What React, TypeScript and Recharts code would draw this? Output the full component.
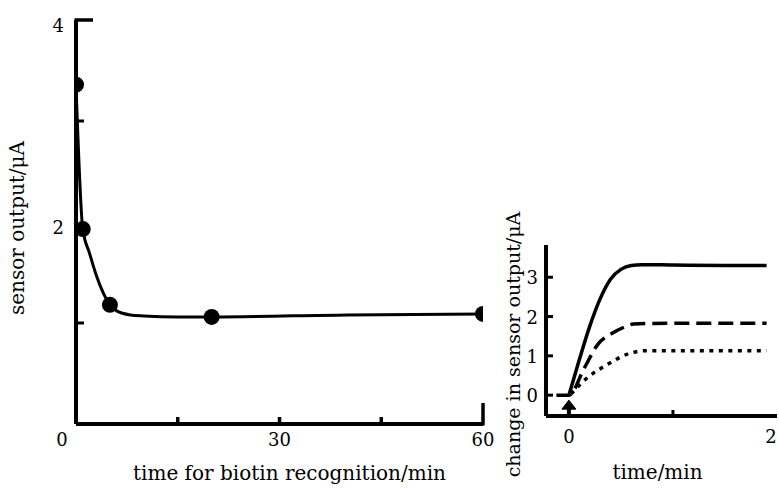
import React from 'react';
import { LineChart, Line, XAxis, YAxis } from 'recharts';

const FONT = '"DejaVu Serif", "Liberation Serif", serif';
const INK = '#000';

// ---- main chart data ----
const mainDotTime = [0, 1, 5, 20, 60];
const mainDotOutput = [3.36, 1.93, 1.18, 1.06, 1.09];
const mainCurveTime = [0, 1, 2, 3, 4, 5, 6, 8, 10, 15, 20, 40, 60];
const mainCurveOutput = [3.36, 1.93, 1.69, 1.47, 1.3, 1.18, 1.12, 1.08, 1.07, 1.06, 1.06, 1.08, 1.09];
const mainXTicks = [0, 15, 30, 45, 60];
const mainXLabels = ['0', '', '30', '', '60'];
const mainYTicks = [0, 1, 2, 3, 4];
const mainYLabels = ['', '', '2', '', '4'];

// ---- inset data ----
const solidTime = [0, 0.1, 0.2, 0.3, 0.4, 0.5, 0.6, 0.7, 1.0, 1.5, 1.9];
const solidChange = [0, 0.9, 1.75, 2.45, 2.95, 3.2, 3.3, 3.32, 3.31, 3.3, 3.3];
const dashedTime = [-0.12, 0, 0.15, 0.28, 0.42, 0.54, 0.62, 1.0, 1.5, 1.9];
const dashedChange = [0, 0, 0.7, 1.3, 1.58, 1.74, 1.81, 1.83, 1.83, 1.83];
const dottedTime = [0.02, 0.18, 0.35, 0.57, 0.73, 1.0, 1.5, 1.9];
const dottedChange = [0.03, 0.45, 0.75, 1.05, 1.13, 1.13, 1.13, 1.13];
const arrowTime = [0, 0];
const arrowChange = [-0.53, -0.33];
const insetXTicks = [0, 1, 2];
const insetXLabels = ['0', '', '2'];
const insetYTicks = [0, 1, 2, 3];
const insetYLabels = ['0', '1', '2', '3'];

const zip = (ts: number[], vs: number[]) => ts.map((t, i) => ({ t, v: vs[i] }));

const mainDots = zip(mainDotTime, mainDotOutput);
const mainCurve = zip(mainCurveTime, mainCurveOutput);
const solidData = zip(solidTime, solidChange);
const dashedData = zip(dashedTime, dashedChange);
const dottedData = zip(dottedTime, dottedChange);
const arrowData = zip(arrowTime, arrowChange);

const textStyle = { fontFamily: FONT, fontSize: 20, fill: INK };
const insetTitleStyle = { fontFamily: FONT, fontSize: 19, fill: INK };
const tickStyle = { fontFamily: FONT, fontSize: 18, fill: INK };

const MainXTick = (props: any) => {
  const { x, y, payload } = props;
  const v = payload.value;
  const label = mainXLabels[mainXTicks.indexOf(v)];
  return (
    <g>
      {v > 0 && v < 60 ? <line x1={x} x2={x} y1={y} y2={y - 7} stroke={INK} strokeWidth={3.5} /> : null}
      {v === 60 ? <line x1={x} x2={x} y1={y + 1.5} y2={y - 21} stroke={INK} strokeWidth={3.5} /> : null}
      {label ? (
        <text x={v === 0 ? x - 14 : x} y={y + 22} textAnchor="middle" style={tickStyle}>{label}</text>
      ) : null}
    </g>
  );
};

const MainYTick = (props: any) => {
  const { x, y, payload } = props;
  const v = payload.value;
  const label = mainYLabels[mainYTicks.indexOf(v)];
  return (
    <g>
      {v === 4 ? <line x1={x - 1.5} x2={x + 17} y1={y} y2={y} stroke={INK} strokeWidth={3.5} /> : null}
      {v === 1 || v === 3 ? <line x1={x} x2={x + 8} y1={y} y2={y} stroke={INK} strokeWidth={3} /> : null}
      {label ? (
        <text x={x - 12} y={y + 12} textAnchor="end" style={tickStyle}>{label}</text>
      ) : null}
    </g>
  );
};

const InsetXTick = (props: any) => {
  const { x, y, payload } = props;
  const v = payload.value;
  const label = insetXLabels[insetXTicks.indexOf(v)];
  return (
    <g>
      {v === 1 ? <line x1={x} x2={x} y1={y} y2={y - 6} stroke={INK} strokeWidth={3} /> : null}
      {label ? (
        <text x={v === 2 ? x - 4 : x} y={y + 27} textAnchor="middle" style={tickStyle}>{label}</text>
      ) : null}
    </g>
  );
};

const InsetYTick = (props: any) => {
  const { x, y, payload } = props;
  const v = payload.value;
  const label = insetYLabels[insetYTicks.indexOf(v)];
  return (
    <g>
      <line x1={x} x2={x + 7} y1={y} y2={y} stroke={INK} strokeWidth={3} />
      <text x={x - 8} y={y + 7} textAnchor="end" style={tickStyle}>{label}</text>
    </g>
  );
};

const ArrowHead = (props: any) => {
  const { cx, cy, index } = props;
  if (index !== 1) return <g key={`a${index}`} />;
  return (
    <polygon
      key={`a${index}`}
      points={`${cx - 7},${cy + 1} ${cx + 7},${cy + 1} ${cx},${cy - 8}`}
      fill={INK}
      stroke={INK}
      strokeWidth={1}
      strokeLinejoin="round"
    />
  );
};

const BigDot = (props: any) => {
  const { cx, cy, index } = props;
  return <circle key={`d${index}`} cx={cx} cy={cy} r={8} fill={INK} />;
};

const axisStroke = { stroke: INK, strokeWidth: 4 };

export default function App() {
  return (
    <div style={{ position: 'absolute', left: 0, top: 0, width: 779, height: 488, background: '#fff', overflow: 'hidden' }}>
      <div style={{ position: 'absolute', left: 0, top: 0 }}>
        <LineChart width={500} height={488} margin={{ top: 20, right: 17, bottom: 0, left: 0 }}>
          <XAxis
            dataKey="t"
            type="number"
            domain={[0, 60]}
            ticks={mainXTicks}
            allowDataOverflow
            height={64}
            tickSize={0}
            tickMargin={0}
            tickLine={false}
            axisLine={axisStroke}
            tick={<MainXTick />}
            label={(p: any) => {
              const vb = p.viewBox;
              return (
                <text x={vb.x + vb.width / 2 + 10} y={vb.y + 56} textAnchor="middle" style={textStyle}>
                  time for biotin recognition/min
                </text>
              );
            }}
          />
          <YAxis
            dataKey="v"
            type="number"
            domain={[0, 4]}
            ticks={mainYTicks}
            allowDataOverflow
            width={76}
            tickSize={0}
            tickMargin={0}
            tickLine={false}
            axisLine={axisStroke}
            tick={<MainYTick />}
            label={(p: any) => {
              const vb = p.viewBox;
              const cy = vb.y + vb.height / 2 + 6;
              return (
                <text x={24} y={cy} textAnchor="middle" transform={`rotate(-90 24 ${cy})`} style={textStyle}>
                  sensor output/μA
                </text>
              );
            }}
          />
          <Line data={mainCurve} dataKey="v" type="monotone" stroke={INK} strokeWidth={3} dot={false} isAnimationActive={false} />
          <Line data={mainDots} dataKey="v" stroke="none" dot={<BigDot />} activeDot={false} isAnimationActive={false} />
        </LineChart>
      </div>
      <div style={{ position: 'absolute', left: 480, top: 0 }}>
        <LineChart width={299} height={488} margin={{ top: 245, right: 2, bottom: 0, left: 0 }}>
          <XAxis
            dataKey="t"
            type="number"
            domain={[-0.22, 2]}
            ticks={insetXTicks}
            allowDataOverflow
            height={72}
            tickSize={0}
            tickMargin={0}
            tickLine={false}
            axisLine={axisStroke}
            tick={<InsetXTick />}
            label={(p: any) => {
              const vb = p.viewBox;
              return (
                <text x={vb.x + vb.width / 2 - 4} y={vb.y + 63} textAnchor="middle" style={textStyle}>
                  time/min
                </text>
              );
            }}
          />
          <XAxis xAxisId="top" orientation="top" dataKey="t" type="number" domain={[-0.22, 2]} height={0} tick={false} tickLine={false} axisLine={axisStroke} />
          <YAxis
            dataKey="v"
            type="number"
            domain={[-0.53, 3.82]}
            ticks={insetYTicks}
            allowDataOverflow
            width={66}
            tickSize={0}
            tickMargin={0}
            tickLine={false}
            axisLine={axisStroke}
            tick={<InsetYTick />}
            label={(p: any) => {
              const vb = p.viewBox;
              const cy = vb.y + vb.height / 2 + 14;
              const cx = 40;
              return (
                <text x={cx} y={cy} textAnchor="middle" transform={`rotate(-90 ${cx} ${cy})`} style={insetTitleStyle}>
                  change in sensor output/μA
                </text>
              );
            }}
          />
          <YAxis yAxisId="r" orientation="right" dataKey="v" type="number" domain={[-0.53, 3.82]} width={0} tick={false} tickLine={false} axisLine={axisStroke} />
          <Line data={solidData} dataKey="v" type="monotone" stroke={INK} strokeWidth={3.5} dot={false} isAnimationActive={false} />
          <Line data={dashedData} dataKey="v" type="monotone" stroke={INK} strokeWidth={3.5} strokeDasharray="15 7" dot={false} isAnimationActive={false} />
          <Line data={dottedData} dataKey="v" type="monotone" stroke={INK} strokeWidth={3.5} strokeDasharray="4 5.5" dot={false} isAnimationActive={false} />
          <Line data={arrowData} dataKey="v" type="linear" stroke={INK} strokeWidth={4} dot={<ArrowHead />} activeDot={false} isAnimationActive={false} />
        </LineChart>
      </div>
    </div>
  );
}
